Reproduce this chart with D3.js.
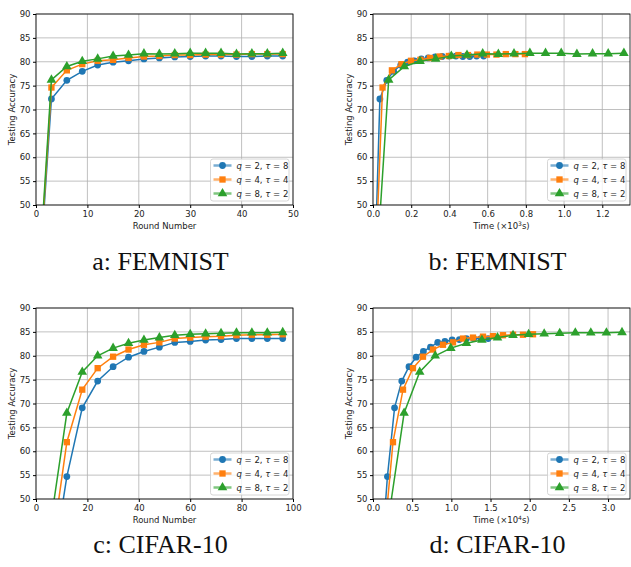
<!DOCTYPE html>
<html lang="en">
<head>
  <meta charset="UTF-8">
  <title>Testing accuracy</title>
  <script src="https://d3js.org/d3.v7.min.js"></script>
  <style>
    body { margin: 0; background: white; }
    .tick text { font-family: "DejaVu Sans", sans-serif; font-size: 8.5px; fill: #222; }
    .grid line { stroke: #b0b0b0; stroke-width: 0.8px; }
    .axlabel { font-family: "DejaVu Sans", sans-serif; font-size: 8.5px; fill: #222; }
    .caption { font-family: "Liberation Serif", serif; font-size: 26px; fill: #111; }
    .legtext { font-family: "DejaVu Sans", sans-serif; font-size: 8.5px; fill: #222; }
  </style>
</head>
<body>
<svg id="svg" width="631" height="567"></svg>
<script>
// ---- data ----
// FEMNIST, by round
const roundsA = [1, 3, 6, 9, 12, 15, 18, 21, 24, 27, 30, 33, 36, 39, 42, 45, 48];
const accA_q2 = [40, 72.2, 76.1, 78.0, 79.3, 79.9, 80.2, 80.6, 80.8, 81.0, 81.1, 81.2, 81.2, 81.1, 81.1, 81.2, 81.2];
const accA_q4 = [41, 74.6, 78.2, 79.5, 80.2, 80.4, 80.8, 81.1, 81.2, 81.4, 81.4, 81.5, 81.5, 81.5, 81.6, 81.6, 81.6];
const accA_q8 = [42, 76.2, 79.0, 80.1, 80.6, 81.2, 81.4, 81.7, 81.6, 81.7, 81.8, 81.8, 81.8, 81.6, 81.7, 81.7, 81.8];
// FEMNIST, by time (x10^3 s)
const timeB_q2 = [0.012, 0.036, 0.072, 0.108, 0.145, 0.181, 0.217, 0.253, 0.289, 0.325, 0.362, 0.398, 0.434, 0.470, 0.506, 0.542, 0.579];
const timeB_q4 = [0.017, 0.050, 0.099, 0.149, 0.199, 0.248, 0.298, 0.348, 0.397, 0.447, 0.497, 0.546, 0.596, 0.646, 0.695, 0.745, 0.795];
const timeB_q8 = [0.027, 0.082, 0.164, 0.246, 0.328, 0.410, 0.492, 0.574, 0.656, 0.738, 0.821, 0.903, 0.985, 1.067, 1.149, 1.231, 1.313];
// CIFAR-10, by round
const roundsC = [6, 12, 18, 24, 30, 36, 42, 48, 54, 60, 66, 72, 78, 84, 90, 96];
const accC_q2 = [34, 54.7, 69.1, 74.7, 77.7, 79.7, 80.9, 81.8, 82.8, 83.0, 83.3, 83.4, 83.6, 83.6, 83.6, 83.6];
const accC_q4 = [39, 61.9, 72.9, 77.4, 79.8, 81.3, 82.3, 82.8, 83.6, 83.8, 84.0, 84.1, 84.3, 84.4, 84.4, 84.5];
const accC_q8 = [46, 68.0, 76.6, 80.0, 81.6, 82.6, 83.3, 83.8, 84.3, 84.5, 84.6, 84.7, 84.8, 84.8, 84.8, 84.9];
// CIFAR-10, by time (x10^4 s)
const timeD_q2 = [0.092, 0.184, 0.275, 0.367, 0.459, 0.551, 0.643, 0.734, 0.826, 0.918, 1.010, 1.102, 1.193, 1.285, 1.377, 1.469];
const timeD_q4 = [0.128, 0.255, 0.383, 0.510, 0.638, 0.766, 0.893, 1.021, 1.149, 1.276, 1.404, 1.531, 1.659, 1.787, 1.914, 2.042];
const timeD_q8 = [0.199, 0.397, 0.596, 0.794, 0.993, 1.192, 1.390, 1.589, 1.787, 1.986, 2.185, 2.383, 2.582, 2.780, 2.979, 3.178];

const seriesQ = ["2", "4", "8"];
const seriesTau = ["8", "4", "2"];
const yTicks = [50, 55, 60, 65, 70, 75, 80, 85, 90];
const xTicksA = [0, 10, 20, 30, 40, 50];
const xTicksB = [0, 0.2, 0.4, 0.6, 0.8, 1.0, 1.2];
const xTicksC = [0, 20, 40, 60, 80, 100];
const xTicksD = [0, 0.5, 1.0, 1.5, 2.0, 2.5, 3.0];

const colors = ["#1f77b4", "#ff7f0e", "#2ca02c"];
const shapes = [d3.symbolCircle, d3.symbolSquare, d3.symbolTriangle];
const shapeSize = [36, 40, 40];

// ---- panels ----
var panels = [
  { left: 36, top: 14, xmax: 50, xs: [roundsA, roundsA, roundsA], ys: [accA_q2, accA_q4, accA_q8],
    xticks: xTicksA, fmt: d3.format("d"), xlabel: "Round Number", caption: "a: FEMNIST", capY: 270 },
  { left: 373, top: 14, xmax: 1.345, xs: [timeB_q2, timeB_q4, timeB_q8], ys: [accA_q2, accA_q4, accA_q8],
    xticks: xTicksB, fmt: d3.format(".1f"), xlabel: "time", exp: "3", caption: "b: FEMNIST", capY: 270 },
  { left: 36, top: 308, xmax: 100, xs: [roundsC, roundsC, roundsC], ys: [accC_q2, accC_q4, accC_q8],
    xticks: xTicksC, fmt: d3.format("d"), xlabel: "Round Number", caption: "c: CIFAR-10", capY: 553 },
  { left: 373, top: 308, xmax: 3.28, xs: [timeD_q2, timeD_q4, timeD_q8], ys: [accC_q2, accC_q4, accC_q8],
    xticks: xTicksD, fmt: d3.format(".1f"), xlabel: "time", exp: "4", caption: "d: CIFAR-10", capY: 553 }
];
const pw = 257, ph = 191;

const svg = d3.select("#svg");

panels.forEach(function(p, pi) {
  var g = svg.append("g").attr("transform", "translate(" + p.left + "," + p.top + ")");
  var x = d3.scaleLinear().domain([0, p.xmax]).range([0, pw]);
  var y = d3.scaleLinear().domain([50, 90]).range([ph, 0]);

  svg.append("clipPath").attr("id", "clip" + pi)
    .append("rect").attr("width", pw).attr("height", ph);

  // grid
  g.append("g").attr("class", "grid")
    .selectAll("line").data(p.xticks).join("line")
    .attr("x1", d => x(d)).attr("x2", d => x(d)).attr("y1", 0).attr("y2", ph);
  g.append("g").attr("class", "grid")
    .selectAll("line").data(yTicks).join("line")
    .attr("y1", d => y(d)).attr("y2", d => y(d)).attr("x1", 0).attr("x2", pw);

  // series
  var plot = g.append("g").attr("clip-path", "url(#clip" + pi + ")");
  for (var s = 0; s < 3; s++) {
    var pts = p.xs[s].map((v, i) => [v, p.ys[s][i]]);
    plot.append("path")
      .attr("d", d3.line().x(d => x(d[0])).y(d => y(d[1]))(pts))
      .attr("fill", "none").attr("stroke", colors[s]).attr("stroke-width", 1.5);
    plot.append("g").selectAll("path").data(pts).join("path")
      .attr("transform", d => "translate(" + x(d[0]) + "," + y(d[1]) + ")")
      .attr("d", d3.symbol(shapes[s], shapeSize[s]))
      .attr("fill", colors[s]);
  }

  // axes
  var xa = g.append("g").attr("transform", "translate(0," + ph + ")")
    .call(d3.axisBottom(x).tickValues(p.xticks).tickFormat(p.fmt).tickSize(3).tickPadding(2.5));
  var ya = g.append("g")
    .call(d3.axisLeft(y).tickValues(yTicks).tickSize(3).tickPadding(2.5));
  xa.select(".domain").remove();
  ya.select(".domain").remove();
  g.append("rect").attr("width", pw).attr("height", ph)
    .attr("fill", "none").attr("stroke", "black").attr("stroke-width", 0.8);

  // labels
  g.append("text").attr("class", "axlabel")
    .attr("transform", "translate(-21," + (ph / 2) + ") rotate(-90)")
    .attr("text-anchor", "middle").text("Testing Accuracy");
  var xl = g.append("text").attr("class", "axlabel")
    .attr("x", pw / 2).attr("y", ph + 24).attr("text-anchor", "middle");
  if (p.xlabel == "time") {
    xl.append("tspan").text("Time (\u00d710");
    xl.append("tspan").attr("dy", -3.5).attr("font-size", "6px").text(p.exp);
    xl.append("tspan").attr("dy", 3.5).text("s)");
  } else {
    xl.text(p.xlabel);
  }

  svg.append("text").attr("class", "caption")
    .attr("x", p.left + pw / 2 - 4).attr("y", p.capY).attr("text-anchor", "middle").text(p.caption);

  // legend
  var lg = g.append("g").attr("transform", "translate(" + (pw - 82.5) + "," + (ph - 46) + ")");
  lg.append("rect").attr("width", 78.5).attr("height", 42).attr("rx", 2.5)
    .attr("fill", "white").attr("fill-opacity", 0.8)
    .attr("stroke", "#cccccc").attr("stroke-width", 0.8);
  for (var s = 0; s < 3; s++) {
    var ly = 6.5 + s * 14;
    lg.append("line").attr("x1", 3).attr("x2", 21).attr("y1", ly).attr("y2", ly)
      .attr("stroke", colors[s]).attr("stroke-width", 2.5).attr("stroke-opacity", 0.6);
    lg.append("path").attr("transform", "translate(12," + ly + ")")
      .attr("d", d3.symbol(shapes[s], shapeSize[s])).attr("fill", colors[s]);
    var t = lg.append("text").attr("class", "legtext").attr("x", 26).attr("y", ly + 3);
    t.append("tspan").attr("font-style", "italic").text("q");
    t.append("tspan").text(" = " + seriesQ[s] + ", ");
    t.append("tspan").attr("font-style", "italic").text("\u03c4");
    t.append("tspan").text(" = " + seriesTau[s]);
  }
});
</script>
</body>
</html>
